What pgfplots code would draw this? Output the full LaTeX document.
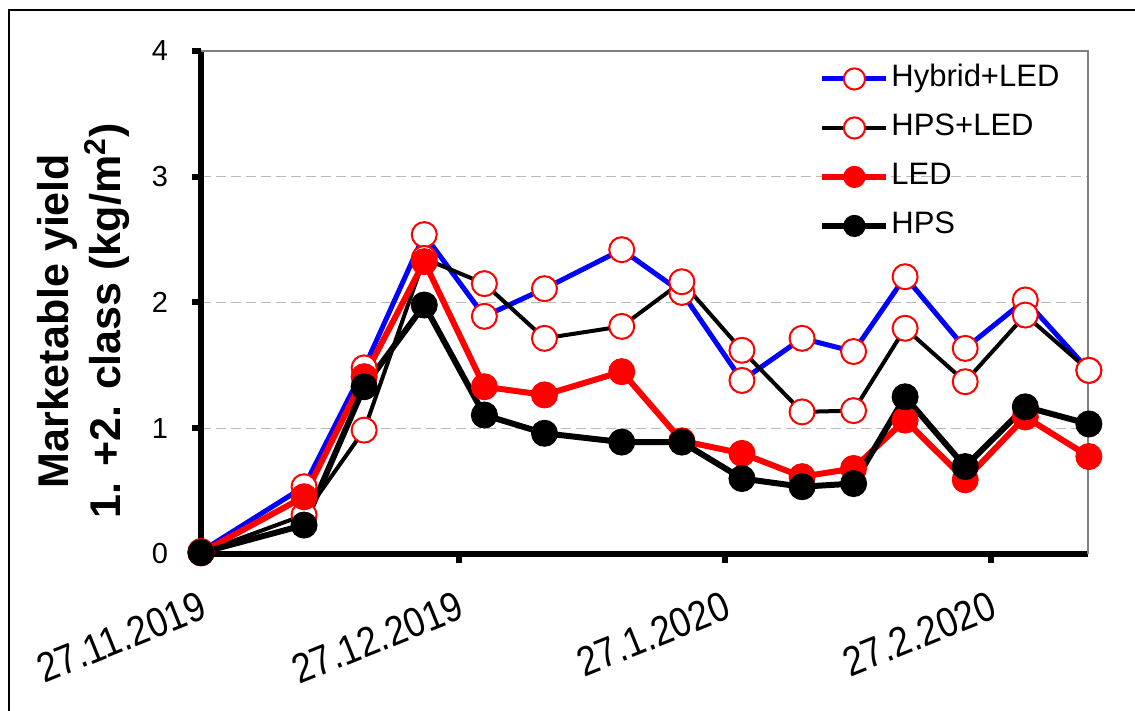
\documentclass[border=0pt]{standalone}
\usepackage{fontspec}
\setmainfont{Liberation Sans}
\usepackage{pgfplots}
\pgfplotsset{compat=1.18}
\begin{document}
\begin{tikzpicture}
\useasboundingbox (0pt,0pt) rectangle (567.5pt,355.5pt);
\draw[line width=1pt] (4.5pt,0pt) -- (4.5pt,350.5pt) -- (567.5pt,350.5pt);
\begin{axis}[
  at={(100.5pt,78.5pt)}, anchor=south west,
  scale only axis, width=443.5pt, height=251.5pt,
  xmin=0, xmax=103.3, ymin=0, ymax=4,
  clip=false,
  axis x line*=bottom, axis y line*=left,
  axis line style={line width=3pt, black},
  tick align=outside,
  major tick length=4.5pt,
  tick style={line width=3pt, black},
  xtick={0,30,61,92},
  xticklabels={27.11.2019,27.12.2019,27.1.2020,27.2.2020},
  ytick={0,1,2,3,4},
  /pgf/number format/assume math mode=true,
  yticklabel style={font=\fontsize{14.5}{17}\selectfont, anchor=east, xshift=-8.5pt},
  xticklabel style={font=\fontsize{18}{21}\selectfont, rotate=22, yscale=1.15, anchor=east, yshift=-17pt, xshift=-3pt},
  ymajorgrids,
  major grid style={gray!55, line width=0.6pt, dash pattern=on 5pt off 2.5pt},
  ylabel={Marketable yield\\1. +2. class (kg/m\textsuperscript{2})},
  ylabel style={align=center, font=\bfseries\fontsize{21.5}{26}\selectfont, at={(axis description cs:-0.133,0.463)}, anchor=center},
  legend style={at={(axis description cs:0.69,0.985)}, anchor=north west, draw=none, fill=none,
    font=\fontsize{15.5}{18}\selectfont, row sep=8.5pt,
    nodes={inner sep=1pt, text height=11pt, text depth=3pt}},
  legend cell align=left,
  legend image code/.code={\draw[mark repeat=2,mark phase=2,#1,mark size=5.3pt] plot coordinates {(0pt,0pt) (16pt,0pt) (32pt,0pt)};},
]
\addplot[blue, line width=2.5pt, mark=*, mark size=6.25pt, mark options={solid, draw=red, fill=white, line width=1pt}]
coordinates {(0,0.02) (12,0.535) (19,1.48) (26,2.54) (33,1.89) (40,2.11) (49,2.42) (56,2.08) (63,1.38) (70,1.715) (76,1.61) (82,2.205) (89,1.635) (96,2.02) (103.4,1.46)};
\addlegendentry{Hybrid+LED}
\addplot[black, line width=2pt, mark=*, mark size=6.25pt, mark options={solid, draw=red, fill=white, line width=1pt}]
coordinates {(0,0.01) (12,0.31) (19,0.985) (26,2.35) (33,2.15) (40,1.715) (49,1.81) (56,2.165) (63,1.62) (70,1.13) (76,1.14) (82,1.795) (89,1.37) (96,1.90) (103.4,1.46)};
\addlegendentry{HPS+LED}
\addplot[red, line width=3pt, mark=*, mark size=6.5pt, mark options={solid, draw=red, fill=red, line width=0.5pt}]
coordinates {(0,0.01) (12,0.455) (19,1.41) (26,2.325) (33,1.33) (40,1.265) (49,1.45) (56,0.90) (63,0.80) (70,0.615) (76,0.68) (82,1.065) (89,0.59) (96,1.09) (103.4,0.775)};
\addlegendentry{LED}
\addplot[black, line width=3pt, mark=*, mark size=6.5pt, mark options={solid, draw=black, fill=black, line width=0.5pt}]
coordinates {(0,0.01) (12,0.23) (19,1.33) (26,1.98) (33,1.105) (40,0.96) (49,0.89) (56,0.89) (63,0.60) (70,0.535) (76,0.56) (82,1.25) (89,0.695) (96,1.17) (103.4,1.034)};
\addlegendentry{HPS}
\draw[gray, line width=1pt] (rel axis cs:0,1) -- (rel axis cs:1,1) -- (rel axis cs:1,0);
\end{axis}
\end{tikzpicture}
\end{document}
